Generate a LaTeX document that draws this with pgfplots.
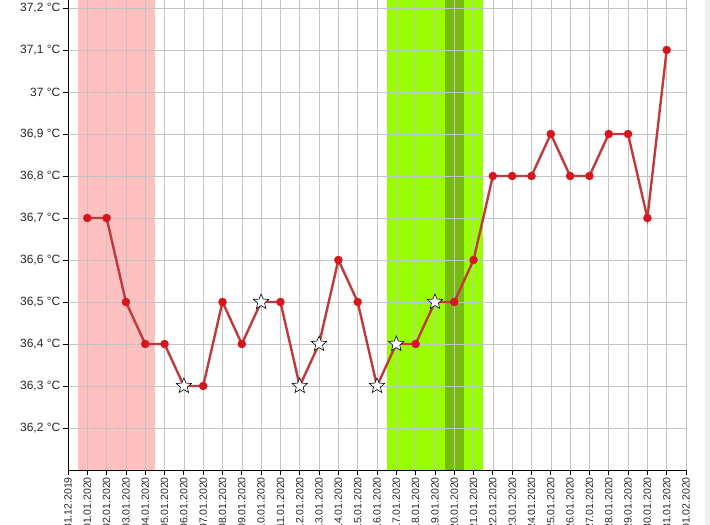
\documentclass[border=0pt]{standalone}
\usepackage{fontspec}
\setmainfont{Liberation Sans}
\usepackage{pgfplots}
\pgfplotsset{compat=1.18}
\definecolor{bandpink}{HTML}{FFC0C0}
\definecolor{bandgreen}{HTML}{99FF00}
\definecolor{banddark}{HTML}{77BB11}
\definecolor{linered}{HTML}{BF3A3C}
\definecolor{markred}{HTML}{D8141C}
\definecolor{gridgray}{HTML}{C4C4C4}
\pgfdeclareplotmark{fstar}{%
  \pgfpathmoveto{\pgfpointpolar{90}{\pgfplotmarksize}}%
  \pgfpathlineto{\pgfpointpolar{126}{0.45\pgfplotmarksize}}%
  \pgfpathlineto{\pgfpointpolar{162}{\pgfplotmarksize}}%
  \pgfpathlineto{\pgfpointpolar{198}{0.45\pgfplotmarksize}}%
  \pgfpathlineto{\pgfpointpolar{234}{\pgfplotmarksize}}%
  \pgfpathlineto{\pgfpointpolar{270}{0.45\pgfplotmarksize}}%
  \pgfpathlineto{\pgfpointpolar{306}{\pgfplotmarksize}}%
  \pgfpathlineto{\pgfpointpolar{342}{0.45\pgfplotmarksize}}%
  \pgfpathlineto{\pgfpointpolar{18}{\pgfplotmarksize}}%
  \pgfpathlineto{\pgfpointpolar{54}{0.45\pgfplotmarksize}}%
  \pgfpathclose
  \pgfusepathqfillstroke}
\pgfplotstableread{
x y
1 36.7
2 36.7
3 36.5
4 36.4
5 36.4
6 36.3
7 36.3
8 36.5
9 36.4
10 36.5
11 36.5
12 36.3
13 36.4
14 36.6
15 36.5
16 36.3
17 36.4
18 36.4
19 36.5
20 36.5
21 36.6
22 36.8
23 36.8
24 36.8
25 36.9
26 36.8
27 36.8
28 36.9
29 36.9
30 36.7
31 37.1
}\temps
\pgfplotstableread{
x y
1 36.7
2 36.7
3 36.5
4 36.4
5 36.4
7 36.3
8 36.5
9 36.4
11 36.5
14 36.6
15 36.5
18 36.4
20 36.5
21 36.6
22 36.8
23 36.8
24 36.8
25 36.9
26 36.8
27 36.8
28 36.9
29 36.9
30 36.7
31 37.1
}\dots
\pgfplotstableread{
x y
6 36.3
10 36.5
12 36.3
13 36.4
16 36.3
17 36.4
19 36.5
}\stars
\begin{document}
\begin{tikzpicture}
\pgfplotsset{set layers}
\begin{axis}[
  at={(0pt,0pt)}, anchor=south west,
  width=618pt, height=470pt, scale only axis,
  xmin=0, xmax=32, ymin=36.1, ymax=37.219,
  axis x line*=bottom, axis y line*=left,
  axis line style={black, line width=0.8pt},
  tick align=outside,
  major tick length=5pt,
  tick style={black, line width=0.8pt},
  grid=major,
  major grid style={gridgray, line width=0.6pt},
  xtick={0,1,...,32},
  xticklabels={31.12.2019,01.01.2020,02.01.2020,03.01.2020,04.01.2020,05.01.2020,06.01.2020,07.01.2020,08.01.2020,09.01.2020,10.01.2020,11.01.2020,12.01.2020,13.01.2020,14.01.2020,15.01.2020,16.01.2020,17.01.2020,18.01.2020,19.01.2020,20.01.2020,21.01.2020,22.01.2020,23.01.2020,24.01.2020,25.01.2020,26.01.2020,27.01.2020,28.01.2020,29.01.2020,30.01.2020,31.01.2020,01.02.2020},
  xticklabel style={rotate=90, anchor=east, font=\fontsize{10.5}{12}\selectfont, inner sep=2pt, text=black!85},
  ytick={36.2,36.3,36.4,36.5,36.6,36.7,36.8,36.9,37.0,37.1,37.2},
  yticklabels={{36,2 °C},{36,3 °C},{36,4 °C},{36,5 °C},{36,6 °C},{36,7 °C},{36,8 °C},{36,9 °C},{37 °C},{37,1 °C},{37,2 °C}},
  yticklabel style={font=\fontsize{12}{14}\selectfont, inner sep=2.5pt, text=black!85},
  clip=false,
]
\addplot[on layer=axis background, draw=none, fill=bandpink] coordinates {(0.5,36.1) (0.5,37.219) (4.5,37.219) (4.5,36.1)} -- cycle;
\addplot[on layer=axis background, draw=none, fill=bandgreen] coordinates {(16.5,36.1) (16.5,37.219) (21.5,37.219) (21.5,36.1)} -- cycle;
\addplot[on layer=axis background, draw=none, fill=banddark] coordinates {(19.5,36.1) (19.5,37.219) (20.5,37.219) (20.5,36.1)} -- cycle;
\addplot[linered, line width=2.4pt, no marks] table[x=x,y=y] {\temps};
\addplot[only marks, mark=*, mark size=4pt, mark options={fill=markred, draw=markred}] table[x=x,y=y] {\dots};
\addplot[only marks, mark=fstar, mark size=8pt, mark options={fill=white, draw=black, line width=0.6pt}] table[x=x,y=y] {\stars};
\end{axis}
\pgfresetboundingbox
\fill[black!6] (637pt,-55pt) rectangle (642pt,470pt);
\useasboundingbox (-68pt,-55pt) rectangle (642pt,470pt);
\end{tikzpicture}
\end{document}
